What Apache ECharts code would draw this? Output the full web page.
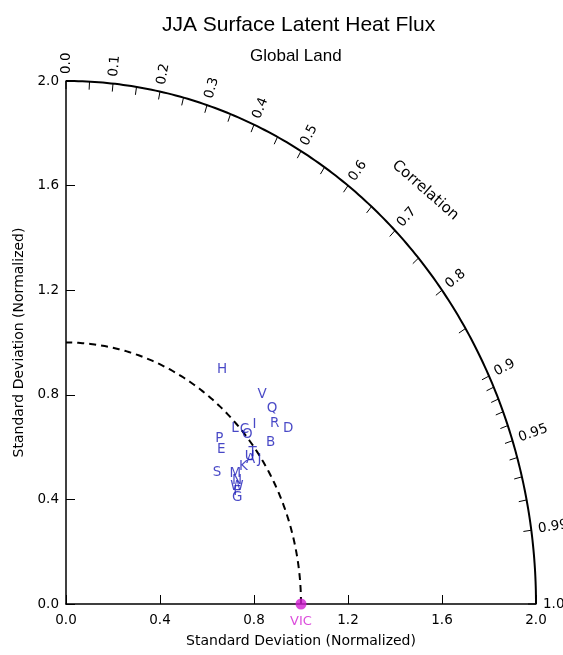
<!DOCTYPE html>
<html>
<head>
<meta charset="utf-8">
<script src="https://cdn.jsdelivr.net/npm/echarts@6/dist/echarts.min.js"></script>
<style>
  html, body { margin: 0; padding: 0; background: #fff; }
  #chart { width: 563px; height: 655px; }
</style>
</head>
<body>
<div id="chart"></div>
<script>
// models (letters) with normalized std dev and correlation vs VIC
const models = ['A', 'B', 'C', 'D', 'E', 'F', 'G', 'H', 'I', 'J', 'K', 'L',
  'M', 'N', 'O', 'P', 'Q', 'R', 'S', 'T', 'U', 'V', 'W']
const stdDev = [0.961, 1.068, 1.010, 1.159, 0.887, 0.845, 0.835, 1.117, 1.057, 0.992, 0.921, 0.984,
  0.877, 0.869, 1.009, 0.908, 1.152, 1.125, 0.816, 0.984, 0.965, 1.158, 0.856]
const corr = [0.817, 0.815, 0.752, 0.816, 0.745, 0.862, 0.872, 0.595, 0.759, 0.830, 0.820, 0.731,
  0.821, 0.838, 0.765, 0.719, 0.761, 0.789, 0.788, 0.807, 0.810, 0.721, 0.850]

// reference
const refName = 'VIC'
const refStd = 1.0

// axes
const corrMajor = [0, 0.1, 0.2, 0.3, 0.4, 0.5, 0.6, 0.7, 0.8, 0.9, 0.95, 0.99, 1.0]
const corrLabels = ['0.0', '0.1', '0.2', '0.3', '0.4', '0.5', '0.6', '0.7', '0.8', '0.9', '0.95', '0.99', '1.0']
const corrMinor = [0.05, 0.15, 0.25, 0.35, 0.45, 0.55, 0.65, 0.75, 0.85, 0.91, 0.92, 0.93, 0.94, 0.96, 0.97, 0.98]
const maxStd = 2.0

const FONT = 'DejaVu Sans'

// polar -> cartesian
const modelPts = models.map((m, i) => {
  const s = stdDev[i], r = corr[i]
  return { name: m, value: [s * r, s * Math.sqrt(1 - r * r)] }
})

function renderFrame(params, api) {
  const o = api.coord([0, 0])
  const children = []
  const arc = (R) => {
    const pts = []
    for (let d = 0; d <= 90; d += 0.5) {
      const t = d * Math.PI / 180
      pts.push(api.coord([R * Math.cos(t), R * Math.sin(t)]))
    }
    return pts
  }
  children.push({ type: 'polyline', shape: { points: arc(maxStd) }, style: { stroke: '#000', lineWidth: 2, fill: null } })
  children.push({ type: 'polyline', shape: { points: arc(refStd) }, style: { stroke: '#000', lineWidth: 2, lineDash: [7, 5], fill: null } })

  const onArc = (c, R) => {
    const t = Math.acos(c)
    const p = api.coord([R * Math.cos(t), R * Math.sin(t)])
    let dx = p[0] - o[0], dy = p[1] - o[1]
    const len = Math.sqrt(dx * dx + dy * dy)
    return { p, dx: dx / len, dy: dy / len }
  }

  corrMajor.concat(corrMinor).forEach((c) => {
    const a = onArc(c, maxStd)
    children.push({
      type: 'line',
      shape: { x1: a.p[0], y1: a.p[1], x2: a.p[0] - a.dx * 8, y2: a.p[1] - a.dy * 8 },
      style: { stroke: '#000', lineWidth: 1 },
    })
  })

  corrMajor.forEach((c, i) => {
    const a = onArc(c, maxStd)
    children.push({
      type: 'text',
      x: a.p[0] + a.dx * 7,
      y: a.p[1] + a.dy * 7,
      rotation: Math.atan2(-a.dy, a.dx),
      style: { text: corrLabels[i], fill: '#000', fontSize: 13.5, fontFamily: FONT, align: 'left', verticalAlign: 'middle' },
    })
  })

  // axis title on the arc
  const ct = onArc(0.695, 2.2)
  children.push({
    type: 'text',
    x: ct.p[0],
    y: ct.p[1],
    rotation: Math.atan2(-ct.dy, ct.dx) - Math.PI / 2,
    style: { text: 'Correlation', fill: '#000', fontSize: 15, fontFamily: FONT, align: 'center', verticalAlign: 'middle' },
  })
  return { type: 'group', children }
}

const chart = echarts.init(document.getElementById('chart'))
chart.setOption({
  backgroundColor: '#fff',
  animation: false,
  title: [
    { text: 'JJA Surface Latent Heat Flux', left: 157, top: 10,
      textStyle: { fontFamily: 'Liberation Sans', fontSize: 21, fontWeight: 'normal', color: '#000' } },
    { text: 'Global Land', left: 245, top: 43,
      textStyle: { fontFamily: 'Liberation Sans', fontSize: 17, fontWeight: 'normal', color: '#000' } },
  ],
  grid: { left: 66, right: 27, top: 81, bottom: 51 },
  xAxis: {
    type: 'value', min: 0, max: maxStd, interval: 0.4,
    name: 'Standard Deviation (Normalized)', nameLocation: 'middle', nameGap: 30,
    nameTextStyle: { fontFamily: FONT, fontSize: 14, color: '#000' },
    axisLine: { lineStyle: { color: '#000', width: 1.5 } },
    axisTick: { inside: true, length: 9, lineStyle: { color: '#000' } },
    axisLabel: { fontFamily: FONT, fontSize: 13.5, color: '#000', margin: 9,
      formatter: (v) => v.toFixed(1) },
    splitLine: { show: false },
  },
  yAxis: {
    type: 'value', min: 0, max: maxStd, interval: 0.4,
    name: 'Standard Deviation (Normalized)', nameLocation: 'middle', nameGap: 37,
    nameTextStyle: { fontFamily: FONT, fontSize: 14, color: '#000' },
    axisLine: { lineStyle: { color: '#000', width: 1.5 } },
    axisTick: { inside: true, length: 9, lineStyle: { color: '#000' } },
    axisLabel: { fontFamily: FONT, fontSize: 13.5, color: '#000', margin: 7,
      formatter: (v) => v.toFixed(1) },
    splitLine: { show: false },
  },
  series: [
    {
      type: 'custom',
      name: 'frame',
      renderItem: renderFrame,
      data: [[0, 0]],
      clip: false,
      silent: true,
      z: 3,
    },
    {
      type: 'scatter',
      name: 'models',
      data: modelPts,
      symbolSize: 0,
      z: 4,
      label: {
        show: true, position: 'inside', formatter: '{b}',
        color: '#1a1ab8', fontFamily: FONT, fontSize: 13.5,
      },
    },
    {
      type: 'scatter',
      name: refName,
      data: [{ name: refName, value: [refStd, 0] }],
      symbol: 'circle',
      symbolSize: 11,
      itemStyle: { color: '#d21ed2' },
      z: 5,
      label: {
        show: true, position: 'bottom', distance: 6, formatter: '{b}',
        color: '#d21ed2', fontFamily: FONT, fontSize: 13,
      },
    },
  ],
})
</script>
</body>
</html>
